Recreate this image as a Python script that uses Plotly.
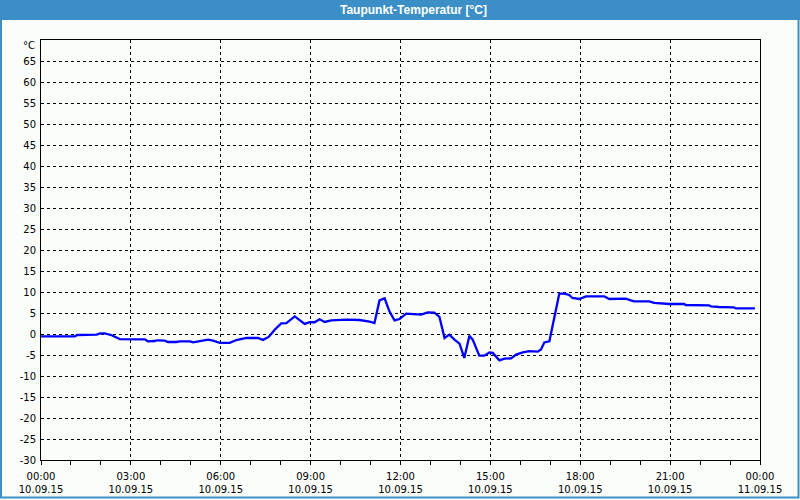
import plotly.graph_objects as go

# Data (hours after 10.09.15 00:00, dew point in °C)
hours = [0, 1.13, 1.21, 1.86, 1.97, 2.13, 2.36, 2.63, 3.47, 3.57, 3.8, 3.86, 4.13, 4.24,
         4.52, 4.63, 4.97, 5.08, 5.3, 5.58, 5.74, 5.97, 6.3, 6.52, 6.86, 7.24, 7.41, 7.6,
         7.8, 8.02, 8.19, 8.47, 8.8, 8.97, 9.13, 9.3, 9.47, 9.69, 10.19, 10.63, 10.97,
         11.13, 11.3, 11.47, 11.63, 11.8, 11.97, 12.19, 12.69, 12.91, 13.13, 13.3, 13.47,
         13.63, 13.8, 13.97, 14.13, 14.3, 14.41, 14.63, 14.8, 14.97, 15.08, 15.3, 15.47,
         15.69, 15.86, 16.08, 16.3, 16.58, 16.69, 16.8, 16.97, 17.08, 17.19, 17.3, 17.47,
         17.63, 17.74, 17.97, 18.19, 18.8, 18.97, 19.3, 19.41, 19.52, 19.69, 19.8, 20.3,
         20.47, 20.97, 21.47, 21.52, 22.3, 22.36, 22.63, 23.13, 23.19, 23.83]
dewpoint = [-0.56, -0.56, -0.24, -0.16, 0.16, 0.16, -0.3, -1.2, -1.27, -1.75, -1.67, -1.5,
            -1.6, -1.9, -1.9, -1.75, -1.75, -2.0, -1.67, -1.35, -1.6, -2.1, -2.1, -1.43,
            -0.95, -0.95, -1.4, -0.7, 1.03, 2.54, 2.6, 4.2, 2.4, 2.8, 2.8, 3.5, 2.86, 3.25,
            3.4, 3.33, 2.94, 2.6, 8.0, 8.5, 5.4, 3.25, 3.57, 4.84, 4.6, 5.16, 5.08, 4.05,
            -0.95, -0.16, -1.35, -2.3, -5.7, -0.4, -1.35, -5.16, -5.16, -4.37, -4.5, -6.27,
            -5.87, -5.8, -4.9, -4.4, -4.1, -4.2, -3.7, -2.0, -1.75, 1.83, 5.8, 9.6, 9.6,
            9.3, 8.57, 8.33, 8.97, 8.97, 8.33, 8.33, 8.5, 8.4, 8.0, 7.78, 7.78, 7.4, 7.14,
            7.14, 6.9, 6.83, 6.6, 6.43, 6.35, 6.1, 6.1]

x_tickvals = [0, 3, 6, 9, 12, 15, 18, 21, 24]
x_ticktext = ["00:00<br>10.09.15", "03:00<br>10.09.15", "06:00<br>10.09.15",
              "09:00<br>10.09.15", "12:00<br>10.09.15", "15:00<br>10.09.15",
              "18:00<br>10.09.15", "21:00<br>10.09.15", "00:00<br>11.09.15"]
y_tickvals = list(range(-30, 70, 5))
y_ticktext = [str(v) for v in y_tickvals]
title_text = "Taupunkt-Temperatur [°C]"
unit_text = "°C"

BG = "#fafdfa"
BLUE_FRAME = "#3c8fc6"
FONT = "DejaVu Sans"

fig = go.Figure()
fig.add_trace(go.Scatter(x=hours, y=dewpoint, mode="lines",
                         line=dict(color="#0000ff", width=2.3), hoverinfo="skip",
                         showlegend=False))

L, R, T, B = 41, 40, 40, 40
W, H = 800, 500
pw, ph = W - L - R, H - T - B

def px(xpix):
    return (xpix - L) / pw

def py(ypix):
    return (H - B - ypix) / ph

fig.update_layout(
    width=W, height=H,
    margin=dict(l=L, r=R, t=T, b=B, pad=0, autoexpand=False),
    paper_bgcolor=BG, plot_bgcolor=BG,
    font=dict(family=FONT, size=10, color="black"),
    showlegend=False,
    xaxis=dict(range=[0, 24], tickmode="array", tickvals=x_tickvals, ticktext=x_ticktext,
               showgrid=True, gridcolor="black", gridwidth=1, griddash="3px,3px",
               showline=True, linecolor="black", linewidth=1, mirror=True,
               ticks="outside", ticklen=4, tickcolor="black", tickwidth=1,
               minor=dict(ticks="outside", dtick=1, tick0=0, ticklen=4,
                          tickcolor="black", showgrid=False),
               zeroline=False, fixedrange=True, automargin=False, ticklabelstandoff=3),
    yaxis=dict(range=[-30, 70], tickmode="array", tickvals=y_tickvals, ticktext=y_ticktext,
               showgrid=True, gridcolor="black", gridwidth=1, griddash="3px,3px",
               showline=True, linecolor="black", linewidth=1, mirror=True,
               ticks="", zeroline=False, fixedrange=True, ticklabelstandoff=2,
               automargin=False),
    shapes=[
        dict(type="rect", xref="paper", yref="paper",
             x0=px(0), x1=px(800), y0=py(20), y1=py(0),
             fillcolor=BLUE_FRAME, line=dict(width=0), layer="above"),
        dict(type="rect", xref="paper", yref="paper",
             x0=px(1), x1=px(798.5), y0=py(497.5), y1=py(1),
             fillcolor="rgba(0,0,0,0)", line=dict(color=BLUE_FRAME, width=2), layer="above"),
    ],
    annotations=[
        dict(text=title_text, xref="paper", yref="paper", x=px(413), y=py(10),
             xanchor="center", yanchor="middle", showarrow=False,
             font=dict(family="Liberation Sans", size=12, color="white", weight="bold")),
        dict(text=unit_text, xref="paper", yref="y", x=0, y=70, xshift=-4, yshift=-5,
             xanchor="right", yanchor="middle", showarrow=False,
             font=dict(family=FONT, size=10, color="black")),
    ],
)

fig.write_html("out.html")
